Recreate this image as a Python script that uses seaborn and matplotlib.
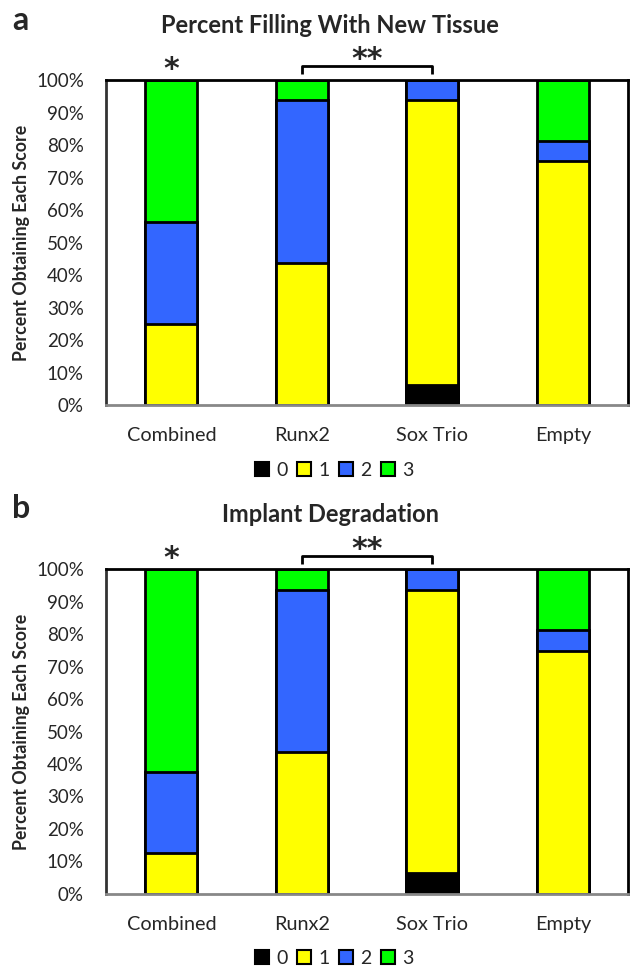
import numpy as np
import pandas as pd
import seaborn as sns
import matplotlib
import matplotlib.pyplot as plt
from matplotlib.patches import Patch
from matplotlib.ticker import PercentFormatter

matplotlib.use('Agg')

# Data: percent of samples obtaining each score (0-3) per group
groups = ["Combined", "Runx2", "Sox Trio", "Empty"]
scores = ["0", "1", "2", "3"]
score_colors = ["#000000", "#FFFF00", "#3366FF", "#00FF00"]

# panel a: percent filling with new tissue
filling_0 = [0.0, 0.0, 6.25, 0.0]
filling_1 = [25.0, 43.75, 87.5, 75.0]
filling_2 = [31.25, 50.0, 6.25, 6.25]
filling_3 = [43.75, 6.25, 0.0, 18.75]

# panel b: implant degradation
degrad_0 = [0.0, 0.0, 6.25, 0.0]
degrad_1 = [12.5, 43.75, 87.5, 75.0]
degrad_2 = [25.0, 50.0, 6.25, 6.25]
degrad_3 = [62.5, 6.25, 0.0, 18.75]

FONT = ['Lato', 'DejaVu Sans']
STAR_FONT = ['DejaVu Sans']


def stacked_panel(ax, series):
    """draw stacked bars by overlaying cumulative sums, top layer first"""
    cum = np.cumsum(np.array(series), axis=0)
    for i in range(len(scores) - 1, -1, -1):
        df = pd.DataFrame({"group": groups, "value": cum[i]})
        sns.barplot(data=df, x="group", y="value", color=score_colors[i],
                    saturation=1, width=0.4, edgecolor="black", linewidth=2.0,
                    ax=ax, order=groups)

    ax.set_ylim(0, 100)
    ax.set_xlim(-0.5, 3.5)
    ax.set_yticks(np.arange(0, 101, 10))
    ax.yaxis.set_major_formatter(PercentFormatter(decimals=0))
    ax.set_xlabel("")
    ax.set_ylabel("Percent Obtaining Each Score", fontsize=12.8, fontweight="bold",
                  family=FONT)
    ax.yaxis.set_label_coords(-0.146, 0.5)
    ax.tick_params(axis="y", length=5, width=1, color="#999999", labelsize=13.5, pad=11)
    ax.tick_params(axis="x", which="major", length=0, labelsize=14.3, pad=16)
    ax.set_xticks([-0.5, 0.5, 1.5, 2.5, 3.5], minor=True)
    ax.tick_params(axis="x", which="minor", length=5, width=1, color="#999999")
    for lab in ax.get_xticklabels() + ax.get_yticklabels():
        lab.set_family(FONT)
    for sp in ax.spines.values():
        sp.set_visible(True)
        sp.set_color("black")
        sp.set_linewidth(2.0)
    ax.spines["left"].set_color("#333333")
    ax.spines["bottom"].set_color("#888888")

    # significance marks
    ax.annotate("*", xy=(0, 100), xycoords="data", xytext=(0, 1.8),
                textcoords="offset points", ha="center", va="baseline",
                fontsize=21.5, fontweight="bold", family=STAR_FONT,
                annotation_clip=False)
    ax.plot([1, 1, 2, 2], [101.8, 104.3, 104.3, 101.8], color="black", lw=2,
            clip_on=False, solid_capstyle="butt")
    ax.annotate("**", xy=(1.5, 100), xycoords="data", xytext=(0, 8.4),
                textcoords="offset points", ha="center", va="baseline",
                fontsize=21.5, fontweight="bold", family=STAR_FONT,
                annotation_clip=False)

    handles = [Patch(facecolor=c, edgecolor="black", linewidth=1.5, label=s)
               for c, s in zip(score_colors, scores)]
    ax.legend(handles=handles, loc="center", bbox_to_anchor=(0.437, -0.2),
              ncol=4, frameon=False, handlelength=0.72, handleheight=0.72,
              handletextpad=0.35, columnspacing=0.5, borderpad=0,
              prop={"family": FONT, "size": 14})


sns.set_style("white")
fig = plt.figure(figsize=(6.39, 9.76), dpi=100)
ax_a = fig.add_axes([0.166, 0.585, 0.817, 0.333])
ax_b = fig.add_axes([0.166, 0.0845, 0.817, 0.332])

stacked_panel(ax_a, [filling_0, filling_1, filling_2, filling_3])
stacked_panel(ax_b, [degrad_0, degrad_1, degrad_2, degrad_3])

# panel titles and letters
fig.text(0.517, 1 - 33 / 976, "Percent Filling With New Tissue", ha="center",
         va="baseline", fontsize=17, fontweight="bold", family=FONT)
fig.text(0.517, 1 - 522 / 976, "Implant Degradation", ha="center",
         va="baseline", fontsize=17, fontweight="bold", family=FONT)
fig.text(0.019, 1 - 30 / 976, "a", ha="left", va="baseline", fontsize=23,
         fontweight="bold", family=FONT)
fig.text(0.019, 1 - 518 / 976, "b", ha="left", va="baseline", fontsize=23,
         fontweight="bold", family=FONT)

fig.savefig("out.png", dpi=100)
